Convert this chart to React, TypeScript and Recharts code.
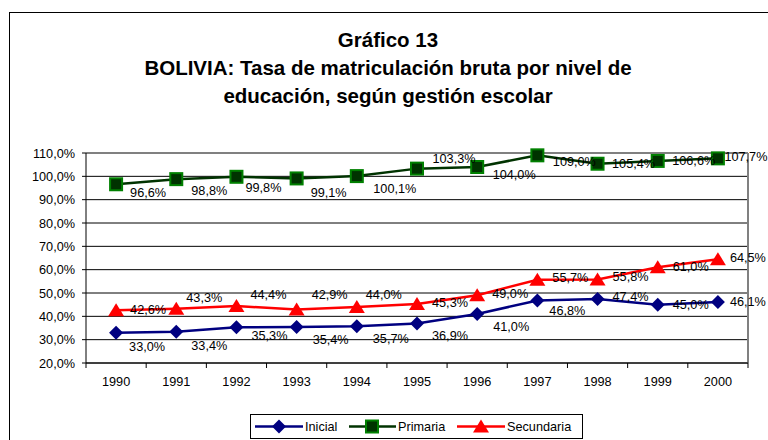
import React from 'react';
import { LineChart, Line, XAxis, YAxis, CartesianGrid, LabelList } from 'recharts';

const years = ['1990', '1991', '1992', '1993', '1994', '1995', '1996', '1997', '1998', '1999', '2000'];
const inicial = [33.0, 33.4, 35.3, 35.4, 35.7, 36.9, 41.0, 46.8, 47.4, 45.0, 46.1];
const primaria = [96.6, 98.8, 99.8, 99.1, 100.1, 103.3, 104.0, 109.0, 105.4, 106.6, 107.7];
const secundaria = [42.6, 43.3, 44.4, 42.9, 44.0, 45.3, 49.0, 55.7, 55.8, 61.0, 64.5];
const yTicks = [20, 30, 40, 50, 60, 70, 80, 90, 100, 110];

// where each data label sits relative to its point (px)
const inicialDx = [31, 33, 33, 34, 34, 33, 34, 30, 33, 33, 30];
const inicialDy = [14, 14, 9, 13, 13, 12, 13, 11, -2, 0, 0];
const primariaDx = [32, 33, 27, 32, 38, 37, 37, 37, 36, 36, 28];
const primariaDy = [9, 12, 11, 15, 13, -10, 8, 7, 0, 0, -1];
const secundariaDx = [32, 28, 32, 33, 27, 33, 33, 33, 33, 33, 30];
const secundariaDy = [0, -11, -11, -15, -12, -1, -1, -2, -2, 0, -1];

const data = years.map((year, i) => ({
  year,
  inicial: inicial[i],
  primaria: primaria[i],
  secundaria: secundaria[i],
}));

const FONT = "'Liberation Sans', Arial, sans-serif";
const NAVY = '#000080';
const DARK_GREEN = '#003300';
const GREEN = '#008000';
const RED = '#ff0000';
const BAND = 662 / 11;

const pct = (v: number) => v.toFixed(1).replace('.', ',') + '%';

const Diamond = ({ cx, cy }: any) => (
  <polygon points={`${cx},${cy - 7} ${cx + 7},${cy} ${cx},${cy + 7} ${cx - 7},${cy}`} fill={NAVY} />
);
const Square = ({ cx, cy }: any) => (
  <rect x={cx - 6} y={cy - 6} width={12} height={12} fill={DARK_GREEN} stroke={GREEN} strokeWidth={2} />
);
const Triangle = ({ cx, cy }: any) => (
  <polygon points={`${cx},${cy - 7} ${cx + 8},${cy + 6} ${cx - 8},${cy + 6}`} fill={RED} />
);

const makeLabel = (dxs: number[], dys: number[]) => (props: any) => {
  const { x, y, value, index } = props;
  if (x == null || y == null) return null;
  return (
    <text
      x={x + dxs[index]}
      y={y + dys[index]}
      textAnchor="middle"
      dominantBaseline="central"
      fontSize={12.7}
      fontFamily={FONT}
      fill="#000"
    >
      {pct(value)}
    </text>
  );
};

const XTick = (props: any) => {
  const { x, y, payload, index } = props;
  const half = BAND / 2;
  return (
    <g>
      <line x1={x - half} y1={y} x2={x - half} y2={y + 5} stroke="#000" />
      {index === years.length - 1 && <line x1={x + half} y1={y} x2={x + half} y2={y + 5} stroke="#000" />}
      <text x={x} y={y + 19} textAnchor="middle" dominantBaseline="central" fontSize={12.7} fontFamily={FONT} fill="#000">
        {payload.value}
      </text>
    </g>
  );
};

const Legend = () => (
  <svg width={334} height={26} style={{ position: 'absolute', left: 250, top: 414 }}>
    <rect x={0.5} y={0.5} width={332} height={24} fill="#fff" stroke="#000" />
    <line x1={5} y1={12.5} x2={53} y2={12.5} stroke={NAVY} strokeWidth={2.5} />
    <Diamond cx={29} cy={12.5} />
    <text x={55} y={12.5} dominantBaseline="central" fontSize={12.7} fontFamily={FONT}>Inicial</text>
    <line x1={99} y1={12.5} x2={146} y2={12.5} stroke={DARK_GREEN} strokeWidth={2.5} />
    <Square cx={122} cy={12.5} />
    <text x={148} y={12.5} dominantBaseline="central" fontSize={12.7} fontFamily={FONT}>Primaria</text>
    <line x1={207} y1={12.5} x2={255} y2={12.5} stroke={RED} strokeWidth={2.5} />
    <Triangle cx={231} cy={12.5} />
    <text x={257} y={12.5} dominantBaseline="central" fontSize={12.7} fontFamily={FONT}>Secundaria</text>
  </svg>
);

const titleStyle: React.CSSProperties = {
  position: 'absolute',
  left: 0,
  width: 776,
  textAlign: 'center',
  fontFamily: FONT,
  fontWeight: 'bold',
  fontSize: 20.5,
  lineHeight: '28px',
  whiteSpace: 'nowrap',
};

export default function App() {
  return (
    <div style={{ position: 'absolute', left: 0, top: 0, width: 768, height: 440, overflow: 'hidden', background: '#fff' }}>
      <div style={{ position: 'absolute', left: 9, top: 12, width: 900, height: 600, borderTop: '1px solid #000', borderLeft: '1px solid #000' }} />
      <div style={{ ...titleStyle, top: 26 }}>Gráfico 13</div>
      <div style={{ ...titleStyle, top: 54 }}>BOLIVIA: Tasa de matriculación bruta por nivel de</div>
      <div style={{ ...titleStyle, top: 82 }}>educación, según gestión escolar</div>

      <div style={{ position: 'absolute', left: 0, top: 0 }}>
        <LineChart width={768} height={440} data={data} margin={{ top: 153, right: 20, bottom: 47, left: 6 }}>
          <CartesianGrid vertical={false} stroke="#000" strokeWidth={1} />
          <CartesianGrid
            vertical={false}
            stroke="#808080"
            strokeWidth={2}
            horizontalCoordinatesGenerator={({ offset }: any) => [offset.top]}
          />
          <CartesianGrid
            horizontal={false}
            stroke="#808080"
            strokeWidth={2}
            verticalCoordinatesGenerator={({ offset }: any) => [offset.left + offset.width]}
          />
          <XAxis
            dataKey="year"
            scale="band"
            height={30}
            axisLine={{ stroke: '#000' }}
            tickLine={false}
            tickSize={0}
            tickMargin={0}
            interval={0}
            tick={<XTick />}
          />
          <YAxis
            width={80}
            domain={[20, 110]}
            ticks={yTicks}
            interval={0}
            tickFormatter={pct}
            axisLine={{ stroke: '#000' }}
            tickLine={{ stroke: '#000' }}
            tickSize={4}
            tickMargin={7}
            tick={{ fontSize: 12.7, fontFamily: FONT, fill: '#000' }}
          />
          <Line
            dataKey="inicial"
            stroke={NAVY}
            strokeWidth={2.5}
            dot={(p: any) => <Diamond key={p.index} cx={p.cx} cy={p.cy} />}
            isAnimationActive={false}
          >
            <LabelList dataKey="inicial" content={makeLabel(inicialDx, inicialDy)} />
          </Line>
          <Line
            dataKey="primaria"
            stroke={DARK_GREEN}
            strokeWidth={2.5}
            dot={(p: any) => <Square key={p.index} cx={p.cx} cy={p.cy} />}
            isAnimationActive={false}
          >
            <LabelList dataKey="primaria" content={makeLabel(primariaDx, primariaDy)} />
          </Line>
          <Line
            dataKey="secundaria"
            stroke={RED}
            strokeWidth={2.5}
            dot={(p: any) => <Triangle key={p.index} cx={p.cx} cy={p.cy} />}
            isAnimationActive={false}
          >
            <LabelList dataKey="secundaria" content={makeLabel(secundariaDx, secundariaDy)} />
          </Line>
        </LineChart>
      </div>

      <Legend />
    </div>
  );
}
